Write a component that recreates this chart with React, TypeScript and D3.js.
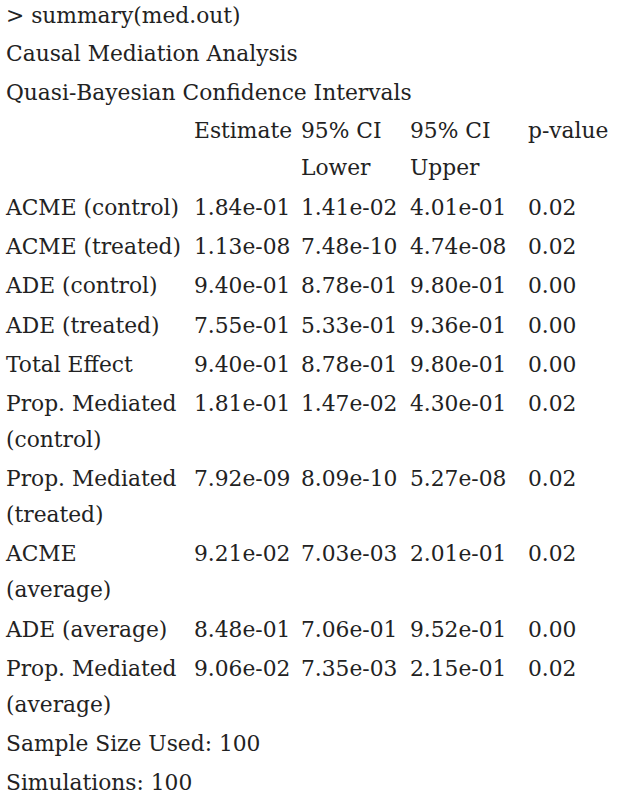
import React from "react";
import * as d3 from "d3";

const headerLines = ["> summary(med.out)", "Causal Mediation Analysis", "Quasi-Bayesian Confidence Intervals"];
const columns = ["label", "Estimate", "Lower", "Upper", "p"];
const columnHeads = [[""], ["Estimate"], ["95% CI", "Lower"], ["95% CI", "Upper"], ["p-value"]];
const rowLabels = [
  ["ACME (control)"],
  ["ACME (treated)"],
  ["ADE (control)"],
  ["ADE (treated)"],
  ["Total Effect"],
  ["Prop. Mediated", "(control)"],
  ["Prop. Mediated", "(treated)"],
  ["ACME", "(average)"],
  ["ADE (average)"],
  ["Prop. Mediated", "(average)"],
];
const estimates = ["1.84e-01", "1.13e-08", "9.40e-01", "7.55e-01", "9.40e-01", "1.81e-01", "7.92e-09", "9.21e-02", "8.48e-01", "9.06e-02"];
const lowers = ["1.41e-02", "7.48e-10", "8.78e-01", "5.33e-01", "8.78e-01", "1.47e-02", "8.09e-10", "7.03e-03", "7.06e-01", "7.35e-03"];
const uppers = ["4.01e-01", "4.74e-08", "9.80e-01", "9.36e-01", "9.80e-01", "4.30e-01", "5.27e-08", "2.01e-01", "9.52e-01", "2.15e-01"];
const pvalues = ["0.02", "0.02", "0.00", "0.00", "0.00", "0.02", "0.02", "0.02", "0.00", "0.02"];
const footerLines = ["Sample Size Used: 100", "Simulations: 100"];

const W = 632;
const H = 799;
const FONT = "'DejaVu Serif', serif";
const FS = 22;
const SX = 0.99;

export default function App() {
  const x = d3.scaleOrdinal<string, number>().domain(columns).range([6, 194, 301, 410, 528]);

  type Line = { texts: { col: string; t: string }[]; y: number };
  const lines: Line[] = [];
  let yy = 23;
  headerLines.forEach(() => {});
  headerLines.forEach((h) => {
    lines.push({ texts: [{ col: "label", t: h }], y: yy });
    yy += 38.3;
  });
  const headN = d3.max(columnHeads, (c) => c.length) as number;
  for (let k = 0; k < headN; k++) {
    const texts: { col: string; t: string }[] = [];
    columnHeads.forEach((c, ci) => {
      if (c[k]) texts.push({ col: columns[ci], t: c[k] });
    });
    lines.push({ texts, y: yy });
    yy += k < headN - 1 ? 37 : 40;
  }
  rowLabels.forEach((lab, ri) => {
    lab.forEach((l, k) => {
      const texts = [{ col: "label", t: l }];
      if (k === 0) {
        texts.push({ col: "Estimate", t: estimates[ri] });
        texts.push({ col: "Lower", t: lowers[ri] });
        texts.push({ col: "Upper", t: uppers[ri] });
        texts.push({ col: "p", t: pvalues[ri] });
      }
      lines.push({ texts, y: yy });
      yy += k < lab.length - 1 ? 36 : 39.2;
    });
  });
  footerLines.forEach((f) => {
    lines.push({ texts: [{ col: "label", t: f }], y: yy });
    yy += 39;
  });

  const y = d3.scaleLinear().domain([0, H]).range([0, H]);

  return (
    <svg
      width={W}
      height={H}
      style={{ position: "absolute", left: 0, top: 0, background: "#fff" }}
    >
      <rect width={W} height={H} fill="#ffffff" />
      {lines.map((ln, i) => (
        <g key={i}>
          {ln.texts.map((t, j) => (
            <text
              key={j}
              transform={`translate(${x(t.col)},${y(ln.y)}) scale(${SX},1)`}
              fontFamily={FONT}
              fontSize={FS}
              fill="#222"
            >
              {t.t}
            </text>
          ))}
        </g>
      ))}
    </svg>
  );
}
